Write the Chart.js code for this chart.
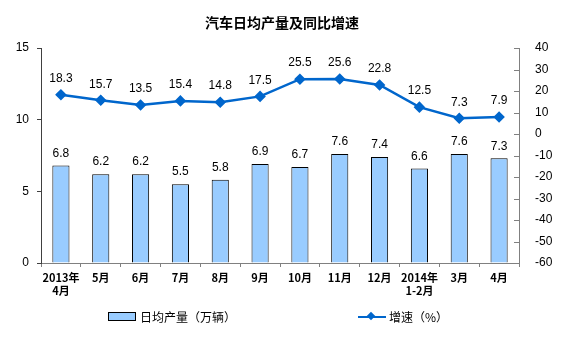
<!DOCTYPE html>
<html>
<head>
<meta charset="utf-8">
<script src="https://cdn.jsdelivr.net/npm/chart.js@4/dist/chart.umd.min.js"></script>
<style>
  body { margin: 0; background: #fff; font-family: "Liberation Sans", Arial, "Noto Sans CJK SC", sans-serif; }
  #wrap { position: relative; width: 564px; height: 351px; }
  #title { position: absolute; left: 0; width: 564px; top: 12px; text-align: center; font: bold 14px "Liberation Sans", "Noto Sans CJK SC", sans-serif; color: #000; }
  .leg { position: absolute; top: 308px; font: 12px "Noto Sans CJK SC", sans-serif; color: #000; display: flex; align-items: center; }
  .box { display: inline-block; width: 26px; height: 7px; background: #99CCFF; border: 1px solid #000; margin-right: 4px; }
  .ln { position: relative; display: inline-block; width: 28px; height: 2px; background: #0066CC; margin-right: 3px; }
  .ln i { position: absolute; left: 10px; top: -3px; width: 6px; height: 6px; background: #0066CC; transform: rotate(45deg); }
</style>
</head>
<body>
<div id="wrap">
  <div id="title">汽车日均产量及同比增速</div>
  <canvas id="myChart" width="564" height="351"></canvas>
  <div class="leg" style="left:108px"><span class="box"></span>日均产量（万辆）</div>
  <div class="leg" style="left:358px"><span class="ln"><i></i></span>增速（%）</div>
</div>
<script>
var xValues = [["2013年","4月"],"5月","6月","7月","8月","9月","10月","11月","12月",["2014年","1-2月"],"3月","4月"];
var outputData = [6.8, 6.2, 6.2, 5.5, 5.8, 6.9, 6.7, 7.6, 7.4, 6.6, 7.6, 7.3];
var growthData = [18.3, 15.7, 13.5, 15.4, 14.8, 17.5, 25.5, 25.6, 22.8, 12.5, 7.3, 7.9];
var leftTicks = [0, 5, 10, 15];
var rightTicks = [-60, -50, -40, -30, -20, -10, 0, 10, 20, 30, 40];

var labelPlugin = {
  id: "valueLabels",
  afterDatasetsDraw: function (chart) {
    var ctx = chart.ctx;
    ctx.save();
    ctx.font = "12px 'Liberation Sans', Arial, sans-serif";
    ctx.fillStyle = "#000";
    ctx.textAlign = "center";
    ctx.textBaseline = "bottom";
    chart.data.datasets.forEach(function (ds, i) {
      var meta = chart.getDatasetMeta(i);
      meta.data.forEach(function (el, j) {
        var off = ds.type === "line" ? 10 : 6;
        ctx.fillText(ds.data[j].toFixed(1), el.x, el.y - off);
      });
    });
    // inward ticks for right axis
    var y2 = chart.scales.y2;
    ctx.strokeStyle = "#808080";
    ctx.lineWidth = 1;
    rightTicks.forEach(function (v) {
      var py = Math.round(y2.getPixelForValue(v)) + 0.5;
      ctx.beginPath();
      ctx.moveTo(y2.left - 5, py);
      ctx.lineTo(y2.left, py);
      ctx.stroke();
    });
    ctx.restore();
  }
};

new Chart("myChart", {
  data: {
    labels: xValues,
    datasets: [{
      type: "line",
      data: growthData,
      yAxisID: "y2",
      borderColor: "#0066CC",
      backgroundColor: "#0066CC",
      borderWidth: 2.5,
      pointStyle: "rectRot",
      pointRadius: 4,
      fill: false,
      tension: 0
    }, {
      type: "bar",
      data: outputData,
      yAxisID: "y",
      backgroundColor: "#99CCFF",
      borderColor: "#000",
      borderWidth: 1,
      categoryPercentage: 1,
      barPercentage: 0.43
    }]
  },
  options: {
    responsive: false,
    animation: false,
    layout: { padding: { top: 48, bottom: 48, left: 0, right: 0 } },
    plugins: { legend: { display: false }, title: { display: false }, tooltip: { enabled: false } },
    scales: {
      x: {
        offset: true,
        grid: { display: true, drawOnChartArea: false, offset: true, tickLength: 4, color: "#808080" },
        border: { color: "#808080" },
        ticks: { color: "#000", font: { size: 11, family: "'Noto Sans CJK SC', sans-serif", weight: "bold" }, maxRotation: 0, autoSkip: false, padding: 4 },
        afterFit: function (s) { s.height = 40; }
      },
      y: {
        position: "left",
        min: 0, max: 15,
        ticks: { stepSize: 5, color: "#000", font: { size: 12, family: "'Liberation Sans', Arial" }, padding: 8 },
        grid: { display: true, drawOnChartArea: false, tickLength: 4, color: "#404040" },
        border: { color: "#404040" },
        afterFit: function (s) { s.width = 41; }
      },
      y2: {
        position: "right",
        min: -60, max: 40,
        ticks: { stepSize: 10, color: "#000", font: { size: 12, family: "'Liberation Sans', Arial" }, padding: 8 },
        grid: { display: false },
        border: { color: "#808080" },
        afterFit: function (s) { s.width = 45; }
      }
    }
  },
  plugins: [labelPlugin]
});
</script>
</body>
</html>
